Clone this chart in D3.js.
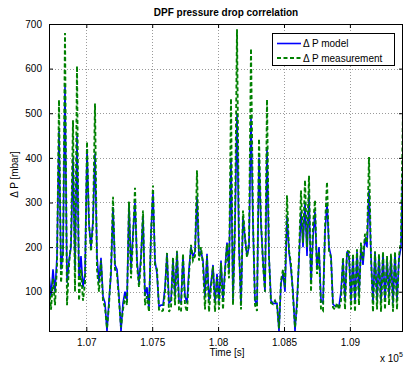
<!DOCTYPE html>
<html><head><meta charset="utf-8">
<script src="https://cdn.jsdelivr.net/npm/d3@7"></script>
<style>body{margin:0;background:#fff}svg{display:block}</style>
</head><body><svg id="c" width="404" height="367"></svg>
<script>
// Acquisition window (s) – samples evenly spaced across it
const timeStart = 106717, timeEnd = 109403;
const modelValues = [
140,90,150,100,180,460,150,190,560,120,
170,200,400,150,450,130,180,110,140,420,
250,200,260,410,180,120,176,90,75,12,
80,140,290,160,150,90,12,75,100,80,
300,150,230,300,170,120,180,270,90,110,
60,230,320,170,140,66,70,70,110,185,
75,80,170,90,190,80,75,180,90,75,
150,200,180,190,312,180,190,170,90,185,
80,120,160,75,140,80,170,80,150,210,
150,400,80,250,500,200,70,270,220,180,
200,490,250,80,70,400,250,170,100,424,
180,80,74,74,74,12,120,140,100,270,
190,150,100,12,80,170,280,200,300,180,
320,120,220,280,150,200,80,75,230,300,
200,180,72,68,68,68,100,170,80,190,
180,80,180,75,190,90,200,160,220,200,
327,180,75,190,80,180,75,185,80,175,
90,180,75,185,80,175,200,402];
const measuredValues = [
120,60,130,70,160,530,120,180,680,70,
160,210,484,100,606,80,150,80,120,436,
254,190,250,522,150,100,170,80,65,18,
70,150,313,150,140,80,20,60,90,70,
302,130,220,333,160,110,170,282,70,90,
55,230,338,160,150,60,55,58,100,187,
55,65,177,70,192,60,55,185,70,55,
140,205,170,180,372,170,200,160,60,180,
55,110,157,55,133,60,165,60,145,207,
130,533,70,252,688,207,60,282,222,177,
210,645,260,70,57,443,260,160,100,531,
177,75,72,80,70,18,125,150,110,316,
192,162,90,20,65,180,327,210,350,200,
360,100,250,305,140,190,60,57,245,346,
192,177,65,60,75,60,80,177,60,192,
190,60,185,55,195,70,210,170,230,210,
402,177,55,190,60,185,55,190,60,180,
70,185,55,190,60,180,215,512];
const yMin = 12, yMax = 700;
const xTicks = [107000,107500,108000,108500,109000];
const xTickLabels = ["1.07","1.075","1.08","1.085","1.09"];
const yTicks = [100,200,300,400,500,600,700];
const yTickLabels = ["100","200","300","400","500","600","700"];
const legendLabels = ["\u0394 P model","\u0394 P measurement"];
const titleText = "DPF pressure drop correlation";

const n = modelValues.length;
const times = modelValues.map((_, i) => timeStart + i * (timeEnd - timeStart) / (n - 1));

const L = 49, R = 403, T = 24, B = 331;
const font = "'Liberation Sans', Arial, Helvetica, sans-serif";
const svg = d3.select("#c");
const x = d3.scaleLinear().domain([timeStart, timeEnd]).range([L, R]);
const y = d3.scaleLinear().domain([yMin, yMax]).range([B, T]);

// grid
const g = svg.append("g");
g.selectAll(".gx").data(xTicks).join("line")
  .attr("x1", d => Math.round(x(d)) + 0.5).attr("x2", d => Math.round(x(d)) + 0.5)
  .attr("y1", T).attr("y2", B)
  .attr("stroke", "#9a9a9a").attr("stroke-width", 1).attr("stroke-dasharray", "1,2");
g.selectAll(".gy").data(yTicks).join("line")
  .attr("y1", d => Math.round(y(d)) + 0.5).attr("y2", d => Math.round(y(d)) + 0.5)
  .attr("x1", L).attr("x2", R)
  .attr("stroke", "#9a9a9a").attr("stroke-width", 1).attr("stroke-dasharray", "1,2");

svg.append("clipPath").attr("id", "clip").append("rect")
  .attr("x", L).attr("y", T).attr("width", R - L).attr("height", B - T);

const line = d3.line().x((d, i) => x(times[i])).y(d => y(d));
const plot = svg.append("g").attr("clip-path", "url(#clip)");
plot.append("path").datum(modelValues).attr("d", line)
  .attr("fill", "none").attr("stroke", "#0000ff").attr("stroke-width", 1.6);
plot.append("path").datum(measuredValues).attr("d", line)
  .attr("fill", "none").attr("stroke", "#008000").attr("stroke-width", 1.9)
  .attr("stroke-dasharray", "4,2.5");

// axes box
svg.append("rect").attr("x", L + 0.5).attr("y", T + 0.5).attr("width", R - L - 1).attr("height", B - T)
  .attr("fill", "none").attr("stroke", "#000").attr("stroke-width", 1);

// axes with inward ticks
const xAxisB = d3.axisBottom(x).tickValues(xTicks).tickFormat((d, i) => xTickLabels[i]).tickSizeInner(-4).tickSizeOuter(0).tickPadding(8);
const xAxisT = d3.axisTop(x).tickValues(xTicks).tickFormat("").tickSizeInner(-4).tickSizeOuter(0);
const yAxisL = d3.axisLeft(y).tickValues(yTicks).tickFormat((d, i) => yTickLabels[i]).tickSizeInner(-4).tickSizeOuter(0).tickPadding(7);
const yAxisR = d3.axisRight(y).tickValues(yTicks).tickFormat("").tickSizeInner(-4).tickSizeOuter(0);
function style(sel) {
  sel.select(".domain").remove();
  sel.selectAll("text").attr("font-family", font).attr("font-size", 10).attr("fill", "#000");
  sel.selectAll("line").attr("stroke", "#000");
}
svg.append("g").attr("transform", `translate(0,${B})`).call(xAxisB).call(style);
svg.append("g").attr("transform", `translate(0,${T})`).call(xAxisT).call(style);
svg.append("g").attr("transform", `translate(${L},0)`).call(yAxisL).call(style);
svg.append("g").attr("transform", `translate(${R},0)`).call(yAxisR).call(style);

// texts
svg.append("text").attr("x", (L + R) / 2).attr("y", 16).attr("text-anchor", "middle")
  .attr("font-family", font).attr("font-size", 10).attr("font-weight", "bold").text(titleText);
svg.append("text").attr("x", (L + R) / 2 + 1).attr("y", 356).attr("text-anchor", "middle")
  .attr("font-family", font).attr("font-size", 10).text("Time [s]");
svg.append("text").attr("transform", `translate(18,${(T + B) / 2 - 3}) rotate(-90)`).attr("text-anchor", "middle")
  .attr("font-family", font).attr("font-size", 10).text("\u0394 P [mbar]");
const ex = svg.append("text").attr("x", 380).attr("y", 362).attr("font-family", font).attr("font-size", 10);
ex.append("tspan").text("x 10");
ex.append("tspan").attr("font-size", 7).attr("dy", -5).text("5");

// legend
const lg = svg.append("g");
lg.append("rect").attr("x", 272.5).attr("y", 33.5).attr("width", 122).attr("height", 32)
  .attr("fill", "#fff").attr("stroke", "#000").attr("stroke-width", 1);
const lstyles = [{c: "#0000ff", w: 1.6, d: null}, {c: "#008000", w: 1.9, d: "4,2.5"}];
legendLabels.forEach((lab, i) => {
  const yy = 43.5 + i * 14.5;
  lg.append("line").attr("x1", 277).attr("x2", 301).attr("y1", yy).attr("y2", yy)
    .attr("stroke", lstyles[i].c).attr("stroke-width", lstyles[i].w).attr("stroke-dasharray", lstyles[i].d);
  lg.append("text").attr("x", 303).attr("y", yy + 3.5).attr("font-family", font).attr("font-size", 10).text(lab);
});
</script></body></html>
